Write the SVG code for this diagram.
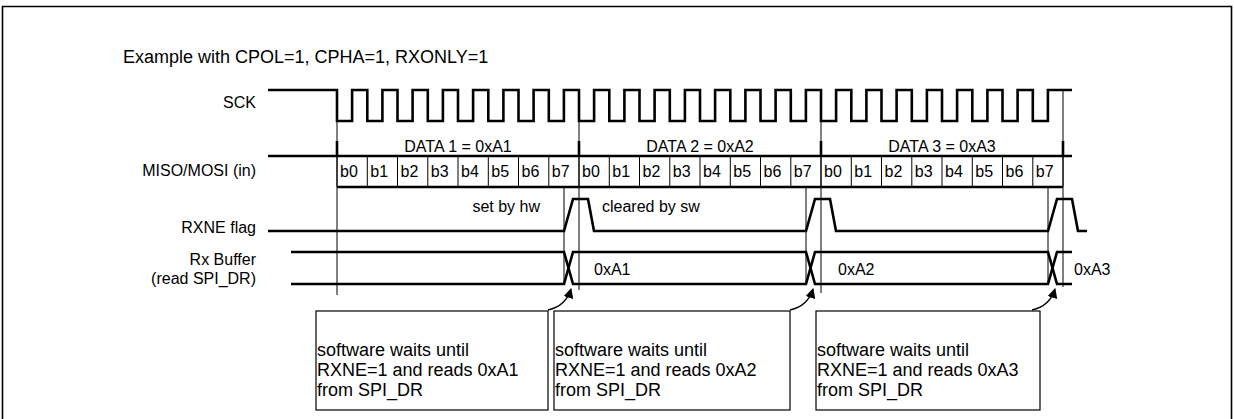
<svg xmlns="http://www.w3.org/2000/svg" width="1234" height="419" viewBox="0 0 1234 419">
<defs>
<style>
text{font-family:"Liberation Sans",Arial,sans-serif;fill:#000}
.lbl{font-size:16px}
.ttl{font-size:18px}
.box{font-size:18px}
.bit{font-size:16px}
.wave{fill:none;stroke:#000;stroke-width:2.6;stroke-linejoin:miter}
.thin{fill:none;stroke:#000;stroke-width:1}
.tick{stroke:#000;stroke-width:2.6}
.nb{fill:#fff;stroke:#000;stroke-width:1.2}
.arr{fill:none;stroke:#000;stroke-width:1.3}
</style>
<marker id="ah" markerWidth="10" markerHeight="10" refX="9" refY="5" orient="auto" markerUnits="userSpaceOnUse">
<path d="M0,0 L10,5 L0,10 Z" fill="#000"/>
</marker>
</defs>
<rect x="0" y="0" width="1234" height="419" fill="#fff"/>
<path d="M2.5,425 V6.5 H1231.5 V425" fill="none" stroke="#000" stroke-width="1.6"/>
<text class="ttl" x="123" y="63">Example with CPOL=1, CPHA=1, RXONLY=1</text>

<g id="labels">
<text class="lbl" x="256" y="108" text-anchor="end">SCK</text>
<text class="lbl" x="256" y="176" text-anchor="end">MISO/MOSI (in)</text>
<text class="lbl" x="256" y="233" text-anchor="end">RXNE flag</text>
<text class="lbl" x="256" y="265" text-anchor="end">Rx Buffer</text>
<text class="lbl" x="256" y="284" text-anchor="end">(read SPI_DR)</text>
</g>

<g id="sck">
<path class="wave" d="M268 90 H337 V121 H352.1 V90 H367.3 V121 H382.4 V90 H397.5 V121 H412.6 V90 H427.8 V121 H442.9 V90 H458 V121 H473.1 V90 H488.3 V121 H503.4 V90 H518.5 V121 H533.6 V90 H548.8 V121 H563.9 V90 H579 V121 H594.1 V90 H609.3 V121 H624.4 V90 H639.5 V121 H654.6 V90 H669.8 V121 H684.9 V90 H700 V121 H715.1 V90 H730.3 V121 H745.4 V90 H760.5 V121 H775.6 V90 H790.8 V121 H805.9 V90 H821 V121 H836.1 V90 H851.3 V121 H866.4 V90 H881.5 V121 H896.6 V90 H911.8 V121 H926.9 V90 H942 V121 H957.1 V90 H972.3 V121 H987.4 V90 H1002.5 V121 H1017.6 V90 H1032.8 V121 H1047.9 V90 H1072"/>
</g>

<g id="miso">
<path class="wave" d="M268 156 H1072 M337 187 H1063"/>
<path class="thin" d="M337 156V187 M367.3 156V187 M397.5 156V187 M427.8 156V187 M458 156V187 M488.3 156V187 M518.5 156V187 M548.8 156V187 M579 156V187 M609.3 156V187 M639.5 156V187 M669.8 156V187 M700 156V187 M730.3 156V187 M760.5 156V187 M790.8 156V187 M821 156V187 M851.3 156V187 M881.5 156V187 M911.8 156V187 M942 156V187 M972.3 156V187 M1002.5 156V187 M1032.8 156V187 M1063 156V187"/>
<text class="lbl" x="458" y="152" text-anchor="middle">DATA 1 = 0xA1</text>
<text class="lbl" x="700" y="152" text-anchor="middle">DATA 2 = 0xA2</text>
<text class="lbl" x="942" y="152" text-anchor="middle">DATA 3 = 0xA3</text>
<g class="bit">
<text x="340" y="177">b0</text><text x="370.3" y="177">b1</text><text x="400.5" y="177">b2</text><text x="430.8" y="177">b3</text><text x="461" y="177">b4</text><text x="491.3" y="177">b5</text><text x="521.5" y="177">b6</text><text x="551.8" y="177">b7</text>
<text x="582" y="177">b0</text><text x="612.3" y="177">b1</text><text x="642.5" y="177">b2</text><text x="672.8" y="177">b3</text><text x="703" y="177">b4</text><text x="733.3" y="177">b5</text><text x="763.5" y="177">b6</text><text x="793.8" y="177">b7</text>
<text x="824" y="177">b0</text><text x="854.3" y="177">b1</text><text x="884.5" y="177">b2</text><text x="914.8" y="177">b3</text><text x="945" y="177">b4</text><text x="975.3" y="177">b5</text><text x="1005.5" y="177">b6</text><text x="1035.8" y="177">b7</text>
</g>
</g>

<g id="rxne">
<path class="wave" d="M268 231 H564 L573 199 H588 L594 231 H806 L815 199 H830 L836 231 H1048 L1057 199 H1072 L1078 231 H1087"/>
<text class="lbl" x="540" y="212" text-anchor="end">set by hw</text>
<text class="lbl" x="602" y="212">cleared by sw</text>
</g>

<g id="rxbuf">
<path class="wave" d="M291 252 H564 L573 284 H806 L815 252 H1048 L1057 284 H1072"/>
<path class="wave" d="M291 284 H564 L573 252 H806 L815 284 H1048 L1057 252 H1072"/>
<text class="lbl" x="594" y="275">0xA1</text>
<text class="lbl" x="838" y="275">0xA2</text>
<text class="lbl" x="1074" y="275">0xA3</text>
</g>

<g id="markers">
<path class="thin" d="M337 121V295 M579 121V290 M821 121V293 M1063 90V287 M564 187V284 M806 187V284 M1048 187V284"/>
<path class="tick" d="M337 141V156 M579 141V156 M821 141V156 M1063 141V156"/>
</g>

<g id="note1">
<rect class="nb" x="316" y="311" width="232" height="99"/>
<text class="box" x="317" y="356">software waits until</text>
<text class="box" x="317" y="376">RXNE=1 and reads 0xA1</text>
<text class="box" x="317" y="396">from SPI_DR</text>
</g>
<g id="note2">
<rect class="nb" x="554" y="311" width="236" height="99"/>
<text class="box" x="555" y="356">software waits until</text>
<text class="box" x="555" y="376">RXNE=1 and reads 0xA2</text>
<text class="box" x="555" y="396">from SPI_DR</text>
</g>
<g id="note3">
<rect class="nb" x="816" y="311" width="224" height="99"/>
<text class="box" x="817" y="356">software waits until</text>
<text class="box" x="817" y="376">RXNE=1 and reads 0xA3</text>
<text class="box" x="817" y="396">from SPI_DR</text>
</g>

<g id="connectors">
<path class="arr" d="M548 310 Q566 306 571 289" marker-end="url(#ah)"/>
<path class="arr" d="M790 310 Q808 306 813 289" marker-end="url(#ah)"/>
<path class="arr" d="M1032 310 Q1050 306 1055 289" marker-end="url(#ah)"/>
</g>
</svg>
